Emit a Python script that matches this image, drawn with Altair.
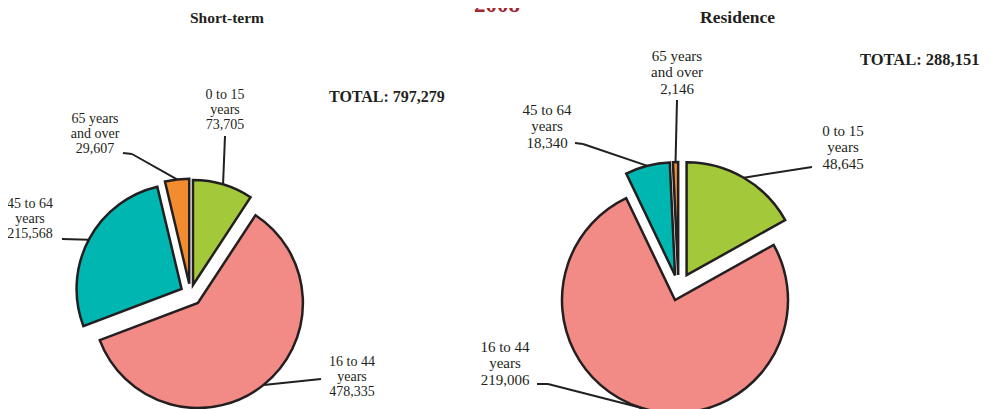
import altair as alt
import pandas as pd

# ---------------- data ----------------
PIES = ["Short-term", "Residence"]
TOTALS = [797279, 288151]
CATEGORIES = ["0 to 15 years", "16 to 44 years", "45 to 64 years", "65 years and over"]
CATEGORY_LINES = ["0 to 15\nyears", "16 to 44\nyears", "45 to 64\nyears", "65 years\nand over"]
SHORT_TERM = [73705, 478335, 215568, 29607]
RESIDENCE = [48645, 219006, 18340, 2146]
YEAR = "2008"

# ---------------- style / layout ----------------
COLORS = ["#a3c93a", "#f28a86", "#00b6b1", "#f28c2e"]
INK = "#231f20"
PIE_LAYOUT = {
    "Short-term": dict(cx=182.4, cy=285.6, r=105, fs=14, tfs=15.5, tx=219, ty=10,
                       totfs=16, totx=321, toty=89),
    "Residence": dict(cx=670.5, cy=281.0, r=113, fs=15, tfs=17.5, tx=729.5, ty=10,
                      totfs=16.5, totx=852, toty=52),
}
EXPLODE = {"Short-term": [9, 12, 10, 10], "Residence": [16, 11.6, 14, 14]}
LABEL_XY = {  # centre of the first text line
    "Short-term": [(217, 87), (344, 354), (22, 196), (87, 111)],
    "Residence": [(835, 122.5), (497, 338.5), (539, 101.5), (669, 47.5)],
}
LEADER_END = {
    "Short-term": [(217, 128), (313, 371), (54, 231), (115, 145)],
    "Residence": [(804, 159), (529, 376), (567, 135), (669, 92)],
}
LEADER_ELBOW = {
    "Short-term": [(217, 128), (313, 371), (54, 231), (124, 146)],
    "Residence": [(804, 159), (540, 376), (575, 136), (669, 92)],
}

rows = []
for pie, tot, vals in zip(PIES, TOTALS, [SHORT_TERM, RESIDENCE]):
    lay = PIE_LAYOUT[pie]
    for i, (cat, lines, v) in enumerate(zip(CATEGORIES, CATEGORY_LINES, vals)):
        rows.append(dict(
            pie=pie, total=tot, order=i, category=cat, lines=lines, value=v,
            explode=EXPLODE[pie][i],
            lx=LABEL_XY[pie][i][0], ly=LABEL_XY[pie][i][1],
            ex=LEADER_ELBOW[pie][i][0], ey=LEADER_ELBOW[pie][i][1],
            endx=LEADER_END[pie][i][0], endy=LEADER_END[pie][i][1],
            **lay,
        ))
df = pd.DataFrame(rows)

base = (
    alt.Chart(df)
    .transform_joinaggregate(vsum="sum(value)", groupby=["pie"])
    .transform_window(cum="sum(value)", groupby=["pie"],
                      sort=[alt.SortField("order")], frame=[None, 0])
    .transform_calculate(
        t0="2*PI*(datum.cum - datum.value)/datum.vsum",
        t1="2*PI*datum.cum/datum.vsum",
    )
    .transform_calculate(mid="(datum.t0 + datum.t1)/2")
    .transform_calculate(
        sx="datum.cx + datum.explode*sin(datum.mid)",
        sy="datum.cy - datum.explode*cos(datum.mid)",
    )
    .transform_calculate(
        ax="datum.sx + datum.r*sin(datum.mid)",
        ay="datum.sy - datum.r*cos(datum.mid)",
        label="datum.lines + '\\n' + format(datum.value, ',')",
    )
)

X = lambda f: alt.X(f, type="quantitative", scale=None, axis=None)
Y = lambda f: alt.Y(f, type="quantitative", scale=None, axis=None)

arcs = base.mark_arc(stroke=INK, strokeWidth=2.5, strokeJoin="miter").encode(
    x=X("sx"), y=Y("sy"),
    theta=alt.Theta("t0:Q", scale=None, stack=None),
    theta2="t1:Q",
    radius=alt.Radius("r:Q", scale=None),
    color=alt.Color("category:N", scale=alt.Scale(domain=CATEGORIES, range=COLORS), legend=None),
)

leader1 = base.mark_rule(color=INK, strokeWidth=2).encode(
    x=X("ax"), y=Y("ay"), x2="ex:Q", y2="ey:Q"
)
leader2 = base.mark_rule(color=INK, strokeWidth=2).encode(
    x=X("ex"), y=Y("ey"), x2="endx:Q", y2="endy:Q"
)

layers = []
for pie, lh in zip(PIES, [15, 16.5]):
    lay = PIE_LAYOUT[pie]
    one = base.transform_filter(alt.datum.pie == pie)
    layers.append(
        one.mark_text(font="Liberation Serif", fontSize=lay["fs"], color=INK,
                      lineBreak="\n", lineHeight=lh, align="center", baseline="middle")
        .encode(x=X("lx"), y=Y("ly"), text="label:N")
    )
    first = one.transform_filter(alt.datum.order == 0)
    layers.append(
        first.mark_text(font="Liberation Serif", fontSize=lay["tfs"], fontWeight="bold",
                        color=INK, align="center", baseline="middle")
        .encode(x=X("tx"), y=Y("ty"), text="pie:N")
    )
    layers.append(
        first.transform_calculate(ttxt="'TOTAL: ' + format(datum.total, ',')")
        .mark_text(font="Liberation Serif", fontSize=lay["totfs"], fontWeight="bold",
                   color=INK, align="left", baseline="middle")
        .encode(x=X("totx"), y=Y("toty"), text="ttxt:N")
    )

year = alt.Chart(pd.DataFrame({"year": [YEAR]})).mark_text(
    font="Liberation Serif", fontSize=23, fontWeight="bold", color="#a3262f",
    align="center", baseline="alphabetic"
).encode(x=alt.value(489), y=alt.value(4), text="year:N")

chart = alt.layer(arcs, leader1, leader2, *layers, year).properties(
    width=973, height=401, padding=0,
    autosize=alt.AutoSizeParams(type="none"),
).configure_view(stroke=None)

chart.save("out.html", embed_options={"renderer": "svg", "actions": False})
